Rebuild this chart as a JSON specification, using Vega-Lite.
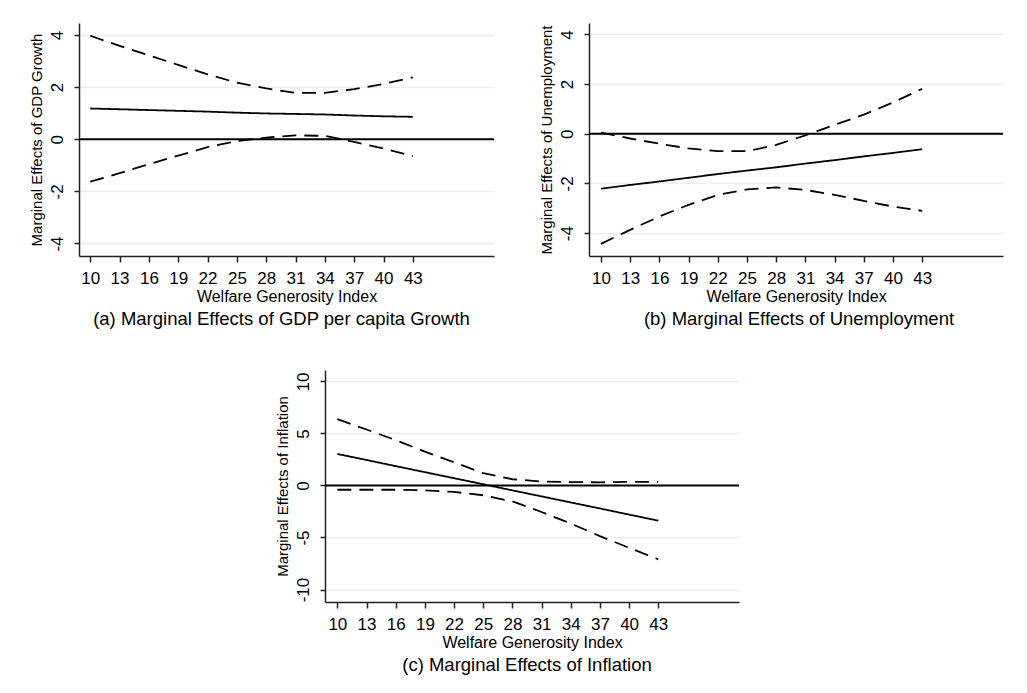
{
  "$schema": "https://vega.github.io/schema/vega-lite/v6.json",
  "background": "white",
  "padding": {"left": 29, "top": 23, "right": 5, "bottom": 5},
  "spacing": 41,
  "config": {
    "font": "Liberation Sans",
    "view": {"stroke": null},
    "axis": {"labelColor": "#000", "titleColor": "#000", "titleFontWeight": "normal", "domainColor": "#222", "tickColor": "#222", "domainWidth": 1.5, "tickWidth": 1.5, "labelOverlap": false},
    "axisX": {"grid": false, "labelFontSize": 17, "titleFontSize": 16, "tickSize": 6, "labelPadding": 8, "titlePadding": 2, "labelFlush": false},
    "axisY": {"grid": true, "gridColor": "#E4EEF3", "gridWidth": 1.5, "labelAngle": -90, "labelAlign": "center", "labelBaseline": "bottom", "labelFontSize": 17, "titleFontSize": 15, "tickSize": 5, "labelPadding": 8, "titlePadding": 4, "labelExpr": "'' + datum.value"},
    "title": {"fontWeight": "normal", "color": "#000", "fontSize": 18.5, "orient": "bottom", "frame": "group", "offset": 6}
  },
  "datasets": {
    "d": [
      {"panel": "a", "x": 10, "series": "est", "style": "solid", "value": 1.18},
      {"panel": "a", "x": 13, "series": "est", "style": "solid", "value": 1.15},
      {"panel": "a", "x": 16, "series": "est", "style": "solid", "value": 1.12},
      {"panel": "a", "x": 19, "series": "est", "style": "solid", "value": 1.09},
      {"panel": "a", "x": 22, "series": "est", "style": "solid", "value": 1.06},
      {"panel": "a", "x": 25, "series": "est", "style": "solid", "value": 1.02},
      {"panel": "a", "x": 28, "series": "est", "style": "solid", "value": 0.99},
      {"panel": "a", "x": 31, "series": "est", "style": "solid", "value": 0.97},
      {"panel": "a", "x": 34, "series": "est", "style": "solid", "value": 0.95},
      {"panel": "a", "x": 37, "series": "est", "style": "solid", "value": 0.91},
      {"panel": "a", "x": 40, "series": "est", "style": "solid", "value": 0.88},
      {"panel": "a", "x": 43, "series": "est", "style": "solid", "value": 0.86},
      {"panel": "a", "x": 10, "series": "upper", "style": "dash", "value": 3.97},
      {"panel": "a", "x": 13, "series": "upper", "style": "dash", "value": 3.58},
      {"panel": "a", "x": 16, "series": "upper", "style": "dash", "value": 3.22},
      {"panel": "a", "x": 19, "series": "upper", "style": "dash", "value": 2.85},
      {"panel": "a", "x": 22, "series": "upper", "style": "dash", "value": 2.49},
      {"panel": "a", "x": 25, "series": "upper", "style": "dash", "value": 2.17},
      {"panel": "a", "x": 28, "series": "upper", "style": "dash", "value": 1.95},
      {"panel": "a", "x": 31, "series": "upper", "style": "dash", "value": 1.78},
      {"panel": "a", "x": 34, "series": "upper", "style": "dash", "value": 1.78},
      {"panel": "a", "x": 37, "series": "upper", "style": "dash", "value": 1.92},
      {"panel": "a", "x": 40, "series": "upper", "style": "dash", "value": 2.12},
      {"panel": "a", "x": 43, "series": "upper", "style": "dash", "value": 2.37},
      {"panel": "a", "x": 10, "series": "lower", "style": "dash", "value": -1.63},
      {"panel": "a", "x": 13, "series": "lower", "style": "dash", "value": -1.30},
      {"panel": "a", "x": 16, "series": "lower", "style": "dash", "value": -0.96},
      {"panel": "a", "x": 19, "series": "lower", "style": "dash", "value": -0.63},
      {"panel": "a", "x": 22, "series": "lower", "style": "dash", "value": -0.30},
      {"panel": "a", "x": 25, "series": "lower", "style": "dash", "value": -0.07},
      {"panel": "a", "x": 28, "series": "lower", "style": "dash", "value": 0.06},
      {"panel": "a", "x": 31, "series": "lower", "style": "dash", "value": 0.15},
      {"panel": "a", "x": 34, "series": "lower", "style": "dash", "value": 0.13},
      {"panel": "a", "x": 37, "series": "lower", "style": "dash", "value": -0.10},
      {"panel": "a", "x": 40, "series": "lower", "style": "dash", "value": -0.36},
      {"panel": "a", "x": 43, "series": "lower", "style": "dash", "value": -0.65},
      {"panel": "b", "x": 10, "series": "est", "style": "solid", "value": -2.21},
      {"panel": "b", "x": 13, "series": "est", "style": "solid", "value": -2.06},
      {"panel": "b", "x": 16, "series": "est", "style": "solid", "value": -1.92},
      {"panel": "b", "x": 19, "series": "est", "style": "solid", "value": -1.77},
      {"panel": "b", "x": 22, "series": "est", "style": "solid", "value": -1.62},
      {"panel": "b", "x": 25, "series": "est", "style": "solid", "value": -1.48},
      {"panel": "b", "x": 28, "series": "est", "style": "solid", "value": -1.35},
      {"panel": "b", "x": 31, "series": "est", "style": "solid", "value": -1.20},
      {"panel": "b", "x": 34, "series": "est", "style": "solid", "value": -1.06},
      {"panel": "b", "x": 37, "series": "est", "style": "solid", "value": -0.91},
      {"panel": "b", "x": 40, "series": "est", "style": "solid", "value": -0.77},
      {"panel": "b", "x": 43, "series": "est", "style": "solid", "value": -0.62},
      {"panel": "b", "x": 10, "series": "upper", "style": "dash", "value": 0.05},
      {"panel": "b", "x": 13, "series": "upper", "style": "dash", "value": -0.19},
      {"panel": "b", "x": 16, "series": "upper", "style": "dash", "value": -0.40},
      {"panel": "b", "x": 19, "series": "upper", "style": "dash", "value": -0.59},
      {"panel": "b", "x": 22, "series": "upper", "style": "dash", "value": -0.70},
      {"panel": "b", "x": 25, "series": "upper", "style": "dash", "value": -0.70},
      {"panel": "b", "x": 28, "series": "upper", "style": "dash", "value": -0.45},
      {"panel": "b", "x": 31, "series": "upper", "style": "dash", "value": -0.06},
      {"panel": "b", "x": 34, "series": "upper", "style": "dash", "value": 0.36},
      {"panel": "b", "x": 37, "series": "upper", "style": "dash", "value": 0.77},
      {"panel": "b", "x": 40, "series": "upper", "style": "dash", "value": 1.26},
      {"panel": "b", "x": 43, "series": "upper", "style": "dash", "value": 1.81},
      {"panel": "b", "x": 10, "series": "lower", "style": "dash", "value": -4.43},
      {"panel": "b", "x": 13, "series": "lower", "style": "dash", "value": -3.87},
      {"panel": "b", "x": 16, "series": "lower", "style": "dash", "value": -3.33},
      {"panel": "b", "x": 19, "series": "lower", "style": "dash", "value": -2.86},
      {"panel": "b", "x": 22, "series": "lower", "style": "dash", "value": -2.46},
      {"panel": "b", "x": 25, "series": "lower", "style": "dash", "value": -2.24},
      {"panel": "b", "x": 28, "series": "lower", "style": "dash", "value": -2.16},
      {"panel": "b", "x": 31, "series": "lower", "style": "dash", "value": -2.26},
      {"panel": "b", "x": 34, "series": "lower", "style": "dash", "value": -2.46},
      {"panel": "b", "x": 37, "series": "lower", "style": "dash", "value": -2.70},
      {"panel": "b", "x": 40, "series": "lower", "style": "dash", "value": -2.93},
      {"panel": "b", "x": 43, "series": "lower", "style": "dash", "value": -3.10},
      {"panel": "c", "x": 10, "series": "est", "style": "solid", "value": 3.03},
      {"panel": "c", "x": 13, "series": "est", "style": "solid", "value": 2.45},
      {"panel": "c", "x": 16, "series": "est", "style": "solid", "value": 1.86},
      {"panel": "c", "x": 19, "series": "est", "style": "solid", "value": 1.28},
      {"panel": "c", "x": 22, "series": "est", "style": "solid", "value": 0.70},
      {"panel": "c", "x": 25, "series": "est", "style": "solid", "value": 0.12},
      {"panel": "c", "x": 28, "series": "est", "style": "solid", "value": -0.47},
      {"panel": "c", "x": 31, "series": "est", "style": "solid", "value": -1.05},
      {"panel": "c", "x": 34, "series": "est", "style": "solid", "value": -1.63},
      {"panel": "c", "x": 37, "series": "est", "style": "solid", "value": -2.21},
      {"panel": "c", "x": 40, "series": "est", "style": "solid", "value": -2.80},
      {"panel": "c", "x": 43, "series": "est", "style": "solid", "value": -3.38},
      {"panel": "c", "x": 10, "series": "upper", "style": "dash", "value": 6.37},
      {"panel": "c", "x": 13, "series": "upper", "style": "dash", "value": 5.38},
      {"panel": "c", "x": 16, "series": "upper", "style": "dash", "value": 4.36},
      {"panel": "c", "x": 19, "series": "upper", "style": "dash", "value": 3.25},
      {"panel": "c", "x": 22, "series": "upper", "style": "dash", "value": 2.23},
      {"panel": "c", "x": 25, "series": "upper", "style": "dash", "value": 1.18},
      {"panel": "c", "x": 28, "series": "upper", "style": "dash", "value": 0.60},
      {"panel": "c", "x": 31, "series": "upper", "style": "dash", "value": 0.38},
      {"panel": "c", "x": 34, "series": "upper", "style": "dash", "value": 0.33},
      {"panel": "c", "x": 37, "series": "upper", "style": "dash", "value": 0.30},
      {"panel": "c", "x": 40, "series": "upper", "style": "dash", "value": 0.35},
      {"panel": "c", "x": 43, "series": "upper", "style": "dash", "value": 0.35},
      {"panel": "c", "x": 10, "series": "lower", "style": "dash", "value": -0.41},
      {"panel": "c", "x": 13, "series": "lower", "style": "dash", "value": -0.41},
      {"panel": "c", "x": 16, "series": "lower", "style": "dash", "value": -0.41},
      {"panel": "c", "x": 19, "series": "lower", "style": "dash", "value": -0.46},
      {"panel": "c", "x": 22, "series": "lower", "style": "dash", "value": -0.62},
      {"panel": "c", "x": 25, "series": "lower", "style": "dash", "value": -0.94},
      {"panel": "c", "x": 28, "series": "lower", "style": "dash", "value": -1.53},
      {"panel": "c", "x": 31, "series": "lower", "style": "dash", "value": -2.55},
      {"panel": "c", "x": 34, "series": "lower", "style": "dash", "value": -3.66},
      {"panel": "c", "x": 37, "series": "lower", "style": "dash", "value": -4.87},
      {"panel": "c", "x": 40, "series": "lower", "style": "dash", "value": -5.99},
      {"panel": "c", "x": 43, "series": "lower", "style": "dash", "value": -7.10}
    ]
  },
  "vconcat": [
    {
      "spacing": 44,
      "hconcat": [
        {
          "width": 415, "height": 233,
          "title": {"text": "(a) Marginal Effects of GDP per capita Growth", "dx": -5},
          "data": {"name": "d"},
          "transform": [{"filter": "datum.panel == 'a'"}],
          "encoding": {
            "x": {"field": "x", "type": "quantitative", "scale": {"domain": [8.85, 51.3], "nice": false, "zero": false}, "axis": {"values": [10,13,16,19,22,25,28,31,34,37,40,43], "title": "Welfare Generosity Index"}},
            "y": {"field": "value", "type": "quantitative", "scale": {"domain": [-4.48, 4.46], "nice": false, "zero": false}, "axis": {"values": [-4,-2,0,2,4], "title": "Marginal Effects of GDP Growth"}}
          },
          "layer": [
            {"mark": {"type": "rule", "color": "#000", "strokeWidth": 2}, "data": {"values": [{"z": 0}]}, "encoding": {"y": {"field": "z", "type": "quantitative"}, "x": null}},
            {"mark": {"type": "line", "color": "#000", "strokeWidth": 1.8}, "encoding": {"detail": {"field": "series"}, "strokeDash": {"field": "style", "type": "nominal", "scale": {"domain": ["solid", "dash"], "range": [[1, 0], [14, 8]]}, "legend": null}}}
          ]
        },
        {
          "width": 414, "height": 233,
          "title": {"text": "(b) Marginal Effects of Unemployment", "dx": 3},
          "data": {"name": "d"},
          "transform": [{"filter": "datum.panel == 'b'"}],
          "encoding": {
            "x": {"field": "x", "type": "quantitative", "scale": {"domain": [8.77, 51.3], "nice": false, "zero": false}, "axis": {"values": [10,13,16,19,22,25,28,31,34,37,40,43], "title": "Welfare Generosity Index"}},
            "y": {"field": "value", "type": "quantitative", "scale": {"domain": [-4.92, 4.46], "nice": false, "zero": false}, "axis": {"values": [-4,-2,0,2,4], "title": "Marginal Effects of Unemployment"}}
          },
          "layer": [
            {"mark": {"type": "rule", "color": "#000", "strokeWidth": 2}, "data": {"values": [{"z": 0}]}, "encoding": {"y": {"field": "z", "type": "quantitative"}, "x": null}},
            {"mark": {"type": "line", "color": "#000", "strokeWidth": 1.8}, "encoding": {"detail": {"field": "series"}, "strokeDash": {"field": "style", "type": "nominal", "scale": {"domain": ["solid", "dash"], "range": [[1, 0], [14, 8]]}, "legend": null}}}
          ]
        }
      ]
    },
    {
      "spacing": 0,
      "hconcat": [
        {"width": 196, "height": 1, "data": {"values": []}, "mark": {"type": "point", "opacity": 0}},
        {
          "width": 414, "height": 232,
          "title": {"text": "(c) Marginal Effects of Inflation", "dx": -5},
          "data": {"name": "d"},
          "transform": [{"filter": "datum.panel == 'c'"}],
          "encoding": {
            "x": {"field": "x", "type": "quantitative", "scale": {"domain": [8.73, 51.3], "nice": false, "zero": false}, "axis": {"values": [10,13,16,19,22,25,28,31,34,37,40,43], "title": "Welfare Generosity Index"}},
            "y": {"field": "value", "type": "quantitative", "scale": {"domain": [-11.2, 11.1], "nice": false, "zero": false}, "axis": {"values": [-10,-5,0,5,10], "title": "Marginal Effects of Inflation"}}
          },
          "layer": [
            {"mark": {"type": "rule", "color": "#000", "strokeWidth": 2}, "data": {"values": [{"z": 0}]}, "encoding": {"y": {"field": "z", "type": "quantitative"}, "x": null}},
            {"mark": {"type": "line", "color": "#000", "strokeWidth": 1.8}, "encoding": {"detail": {"field": "series"}, "strokeDash": {"field": "style", "type": "nominal", "scale": {"domain": ["solid", "dash"], "range": [[1, 0], [14, 8]]}, "legend": null}}}
          ]
        }
      ]
    }
  ]
}
